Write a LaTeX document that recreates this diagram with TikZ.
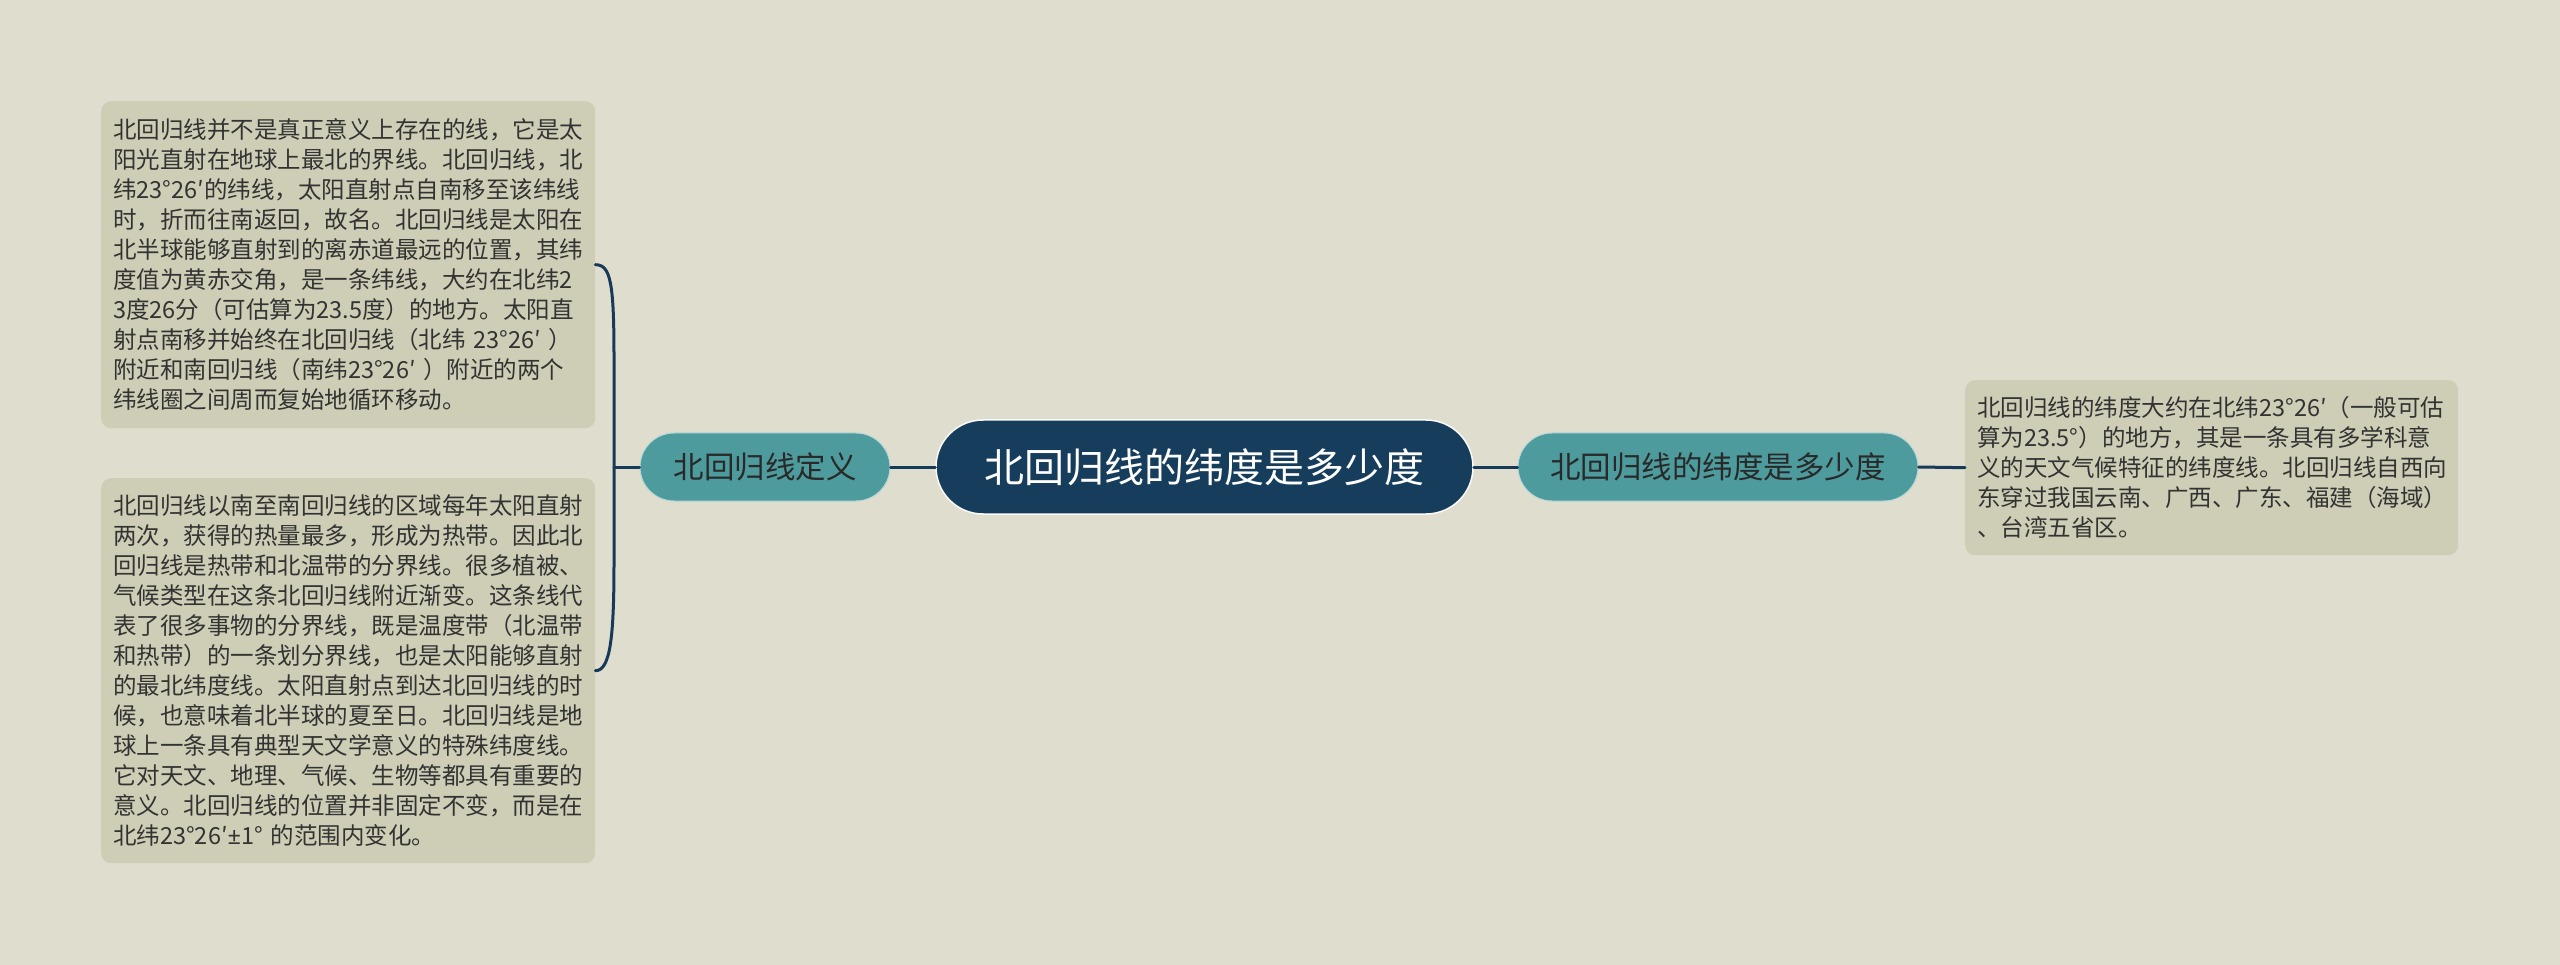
\documentclass[tikz,border=0pt]{standalone}
\usepackage{fontspec}
\setmainfont{Noto Sans CJK SC}
\newfontfamily\latfont{Noto Sans}
\usetikzlibrary{calc}
\definecolor{bgc}{HTML}{DFDDCE}
\definecolor{boxc}{HTML}{CECDB5}
\definecolor{tealc}{HTML}{4E9B9D}
\definecolor{navyc}{HTML}{173D5D}
\definecolor{linec}{HTML}{173A59}
\definecolor{txtc}{HTML}{333333}
\begin{document}
\begin{tikzpicture}[x=1pt,y=-1pt,
  conn/.style={draw=linec,line width=3pt,line cap=round},
  rootnode/.style={fill=navyc,draw=white!85!bgc,line width=1.5pt,rounded corners=47pt,
    minimum width=537pt,minimum height=94pt,inner sep=0pt,text=white,
    font=\fontsize{40}{48}\selectfont},
  midnode/.style={fill=tealc,draw=white!60!tealc,line width=1pt,rounded corners=34pt,
    minimum height=68pt,inner sep=0pt,text=txtc!80!black,
    font=\fontsize{30.5}{36}\selectfont},
  leafbox/.style={fill=boxc,rounded corners=10pt,anchor=north west,inner xsep=12pt,
    inner ysep=0pt,align=left,text=txtc,font=\fontsize{23.5}{30}\selectfont}
]
\useasboundingbox[fill=bgc] (0,0) rectangle (2560,965);

\node[rootnode] (root) at (1204.5,467) {北回归线的纬度是多少度};
\node[midnode,minimum width=250pt] (lm) at (765,467) {北回归线定义};
\node[midnode,minimum width=400pt] (rm) at (1718,467) {北回归线的纬度是多少度};

\node[leafbox,text width=470pt,minimum height=327pt] (b1) at (101,101) {北回归线并不是真正意义上存在的线，它是太\\
阳光直射在地球上最北的界线。北回归线，北\\
纬23°26′的纬线，太阳直射点自南移至该纬线\\
时，折而往南返回，故名。北回归线是太阳在\\
北半球能够直射到的离赤道最远的位置，其纬\\
度值为黄赤交角，是一条纬线，大约在北纬2\\
3度26分（可估算为23.5度）的地方。太阳直\\
射点南移并始终在北回归线（北纬 23°26′ ）\\
附近和南回归线（南纬23°26′ ）附近的两个\\
纬线圈之间周而复始地循环移动。};

\node[leafbox,text width=470pt,minimum height=385pt] (b2) at (101,478) {北回归线以南至南回归线的区域每年太阳直射\\
两次，获得的热量最多，形成为热带。因此北\\
回归线是热带和北温带的分界线。很多植被、\\
气候类型在这条北回归线附近渐变。这条线代\\
表了很多事物的分界线，既是温度带（北温带\\
和热带）的一条划分界线，也是太阳能够直射\\
的最北纬度线。太阳直射点到达北回归线的时\\
候，也意味着北半球的夏至日。北回归线是地\\
球上一条具有典型天文学意义的特殊纬度线。\\
它对天文、地理、气候、生物等都具有重要的\\
意义。北回归线的位置并非固定不变，而是在\\
北纬23°26′{\latfont ±}1° 的范围内变化。};

\node[leafbox,text width=469pt,minimum height=175pt] (b3) at (1965,380) {北回归线的纬度大约在北纬23°26′（一般可估\\
算为23.5°）的地方，其是一条具有多学科意\\
义的天文气候特征的纬度线。北回归线自西向\\
东穿过我国云南、广西、广东、福建（海域）\\
、台湾五省区。};

\coordinate (jl) at (614,467);
\draw[conn] (root.west) -- (lm.east);
\draw[conn] (lm.west) -- (jl);
\draw[conn] (b1.east) .. controls +(15,0) and +(0,-75) .. ($(jl)+(0,-110)$) -- (jl);
\draw[conn] (b2.east) .. controls +(15,0) and +(0,75) .. ($(jl)+(0,95)$) -- (jl);
\draw[conn] (root.east) -- (rm.west);
\draw[conn] (rm.east) -- (b3.west);
\end{tikzpicture}
\end{document}
